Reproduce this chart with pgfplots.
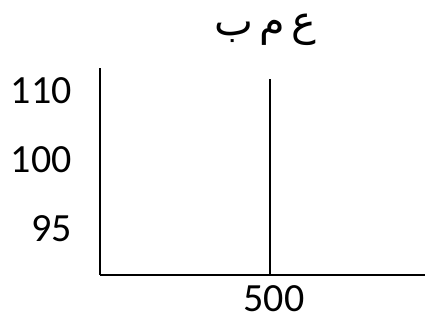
\documentclass[border=0pt]{standalone}
\usepackage{fontspec}
\setmainfont{Carlito}
\newfontfamily\arabicfont[Script=Arabic]{DejaVu Sans}
\TeXXeTstate=1
\usepackage{pgfplots}
\pgfplotsset{compat=1.18}

\begin{document}
\begin{tikzpicture}
\useasboundingbox (0,0) rectangle (318.75pt,240pt);
\begin{axis}[
    at={(75pt,33.75pt)},
    anchor=south west,
    scale only axis,
    width=243.75pt,
    height=155.25pt,
    xmin=0, xmax=956,
    ymin=0.33, ymax=3.33,
    axis x line=bottom,
    axis y line=left,
    axis line style={-, line width=1.5pt, black},
    major tick length=0pt,
    xtick={500},
    xticklabels={500},
    ytick={1,2,3},
    yticklabels={95,100,110},
    /pgf/number format/assume math mode=true,
    tick label style={font=\fontsize{30}{32}\selectfont, inner sep=0pt},
    yticklabel style={anchor=east, xshift=-21pt},
    xticklabel style={anchor=north, yshift=-8pt, xshift=3pt},
    title={\arabicfont\beginR ع\hspace{0.15em}م\hspace{0.15em}ب\endR},
    title style={font=\fontsize{31}{34}\selectfont, inner sep=0pt, at={(0.5,1)}, anchor=base, yshift=18.5pt, xshift=2pt},
    clip=true,
]
\addplot[black, line width=1.5pt, mark=none] coordinates {(500,0.2) (500,3.167)};
\end{axis}
\end{tikzpicture}
\end{document}
